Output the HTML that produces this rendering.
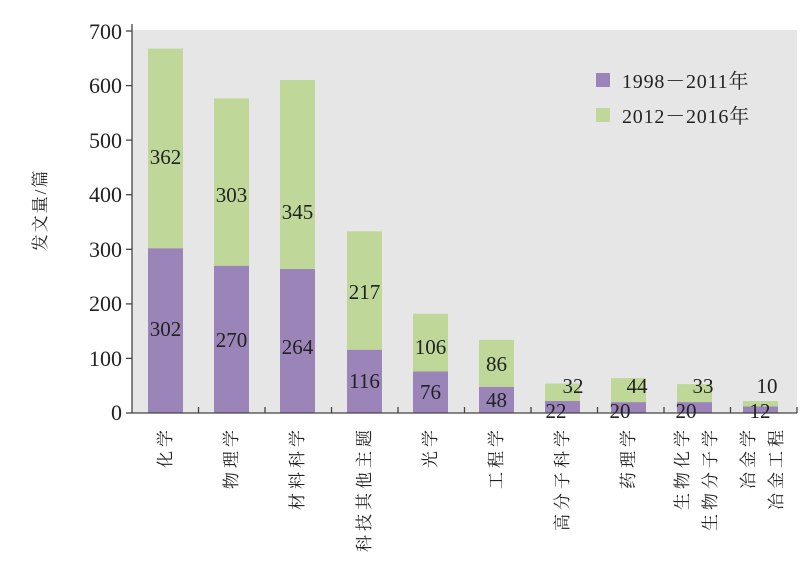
<!DOCTYPE html>
<html><head><meta charset="utf-8"><style>
body{margin:0;background:#fff}
svg{display:block;font-family:"Liberation Serif","Noto Serif CJK SC",serif}
</style></head><body>
<svg width="809" height="564" viewBox="0 0 809 564" xmlns="http://www.w3.org/2000/svg">
<rect x="132" y="30" width="665" height="383" fill="#e6e6e6"/>
<g fill="#9b84b7">
<rect x="148" y="248.2" width="35" height="164.8"/>
<rect x="214" y="265.7" width="35" height="147.3"/>
<rect x="280" y="268.9" width="35" height="144.1"/>
<rect x="347" y="349.7" width="35" height="63.3"/>
<rect x="413" y="371.5" width="35" height="41.5"/>
<rect x="479" y="386.8" width="35" height="26.2"/>
<rect x="545" y="401" width="35" height="12"/>
<rect x="611" y="402.1" width="35" height="10.9"/>
<rect x="677" y="402.1" width="35" height="10.9"/>
<rect x="743" y="406.5" width="35" height="6.5"/>
</g>
<g fill="#bfd89a">
<rect x="148" y="48.6" width="35" height="199.6"/>
<rect x="214" y="98.4" width="35" height="167.3"/>
<rect x="280" y="80" width="35" height="188.9"/>
<rect x="347" y="231.3" width="35" height="118.4"/>
<rect x="413" y="313.7" width="35" height="57.8"/>
<rect x="479" y="339.9" width="35" height="46.9"/>
<rect x="545" y="383.5" width="35" height="17.5"/>
<rect x="611" y="378.1" width="35" height="24"/>
<rect x="677" y="384.1" width="35" height="18"/>
<rect x="743" y="401" width="35" height="5.5"/>
</g>
<g stroke="#444" stroke-width="1.3" fill="none">
<line x1="132" y1="24" x2="132" y2="413"/>
<line x1="132" y1="413" x2="797" y2="413"/>
<line x1="126" y1="31" x2="132" y2="31"/>
<line x1="126" y1="85.6" x2="132" y2="85.6"/>
<line x1="126" y1="140.1" x2="132" y2="140.1"/>
<line x1="126" y1="194.7" x2="132" y2="194.7"/>
<line x1="126" y1="249.3" x2="132" y2="249.3"/>
<line x1="126" y1="303.9" x2="132" y2="303.9"/>
<line x1="126" y1="358.4" x2="132" y2="358.4"/>
<line x1="126" y1="413" x2="132" y2="413"/>
<line x1="198.5" y1="407" x2="198.5" y2="413"/>
<line x1="265" y1="407" x2="265" y2="413"/>
<line x1="331.5" y1="407" x2="331.5" y2="413"/>
<line x1="398" y1="407" x2="398" y2="413"/>
<line x1="464.5" y1="407" x2="464.5" y2="413"/>
<line x1="531" y1="407" x2="531" y2="413"/>
<line x1="597.5" y1="407" x2="597.5" y2="413"/>
<line x1="664" y1="407" x2="664" y2="413"/>
<line x1="730.5" y1="407" x2="730.5" y2="413"/>
<line x1="797" y1="407" x2="797" y2="413"/>
</g>
<g font-size="22" fill="#222" text-anchor="end">
<text x="122" y="39">700</text>
<text x="122" y="93">600</text>
<text x="122" y="148">500</text>
<text x="122" y="202">400</text>
<text x="122" y="257">300</text>
<text x="122" y="311">200</text>
<text x="122" y="366">100</text>
<text x="122" y="420">0</text>
</g>
<text transform="translate(46,210) rotate(-90)" font-size="17" letter-spacing="2" text-anchor="middle" fill="#222">发文量/篇</text>
<g font-size="21" fill="#222" text-anchor="middle">
<text x="165.5" y="164">362</text><text x="165.5" y="336">302</text>
<text x="231.5" y="202">303</text><text x="231.5" y="347">270</text>
<text x="297.5" y="219">345</text><text x="297.5" y="354">264</text>
<text x="364.5" y="299">217</text><text x="364.5" y="388">116</text>
<text x="430.5" y="354">106</text><text x="430.5" y="399">76</text>
<text x="496.5" y="371">86</text><text x="496.5" y="407">48</text>
<text x="573" y="393">32</text><text x="556" y="418">22</text>
<text x="637" y="393">44</text><text x="620" y="418">20</text>
<text x="703" y="393">33</text><text x="686" y="418">20</text>
<text x="767" y="393">10</text><text x="760" y="418">12</text>
</g>
<g font-size="17" fill="#222" text-anchor="end" letter-spacing="4">
<text transform="translate(171,426) rotate(-90)">化学</text>
<text transform="translate(237,426) rotate(-90)">物理学</text>
<text transform="translate(303,426) rotate(-90)">材料科学</text>
<text transform="translate(370,426) rotate(-90)">科技其他主题</text>
<text transform="translate(436,426) rotate(-90)">光学</text>
<text transform="translate(502,426) rotate(-90)">工程学</text>
<text transform="translate(568,426) rotate(-90)">高分子科学</text>
<text transform="translate(634,426) rotate(-90)">药理学</text>
<text transform="translate(688,426) rotate(-90)">生物化学</text>
<text transform="translate(716,426) rotate(-90)">生物分子学</text>
<text transform="translate(754,426) rotate(-90)">冶金学</text>
<text transform="translate(782,426) rotate(-90)">冶金工程</text>
</g>
<rect x="596" y="73" width="14" height="14" fill="#9b84b7"/>
<rect x="596" y="108" width="14" height="14" fill="#bfd89a"/>
<g font-size="20" fill="#222" letter-spacing="0.8">
<text x="622" y="88">1998－2011年</text>
<text x="622" y="123">2012－2016年</text>
</g>
</svg>
</body></html>
